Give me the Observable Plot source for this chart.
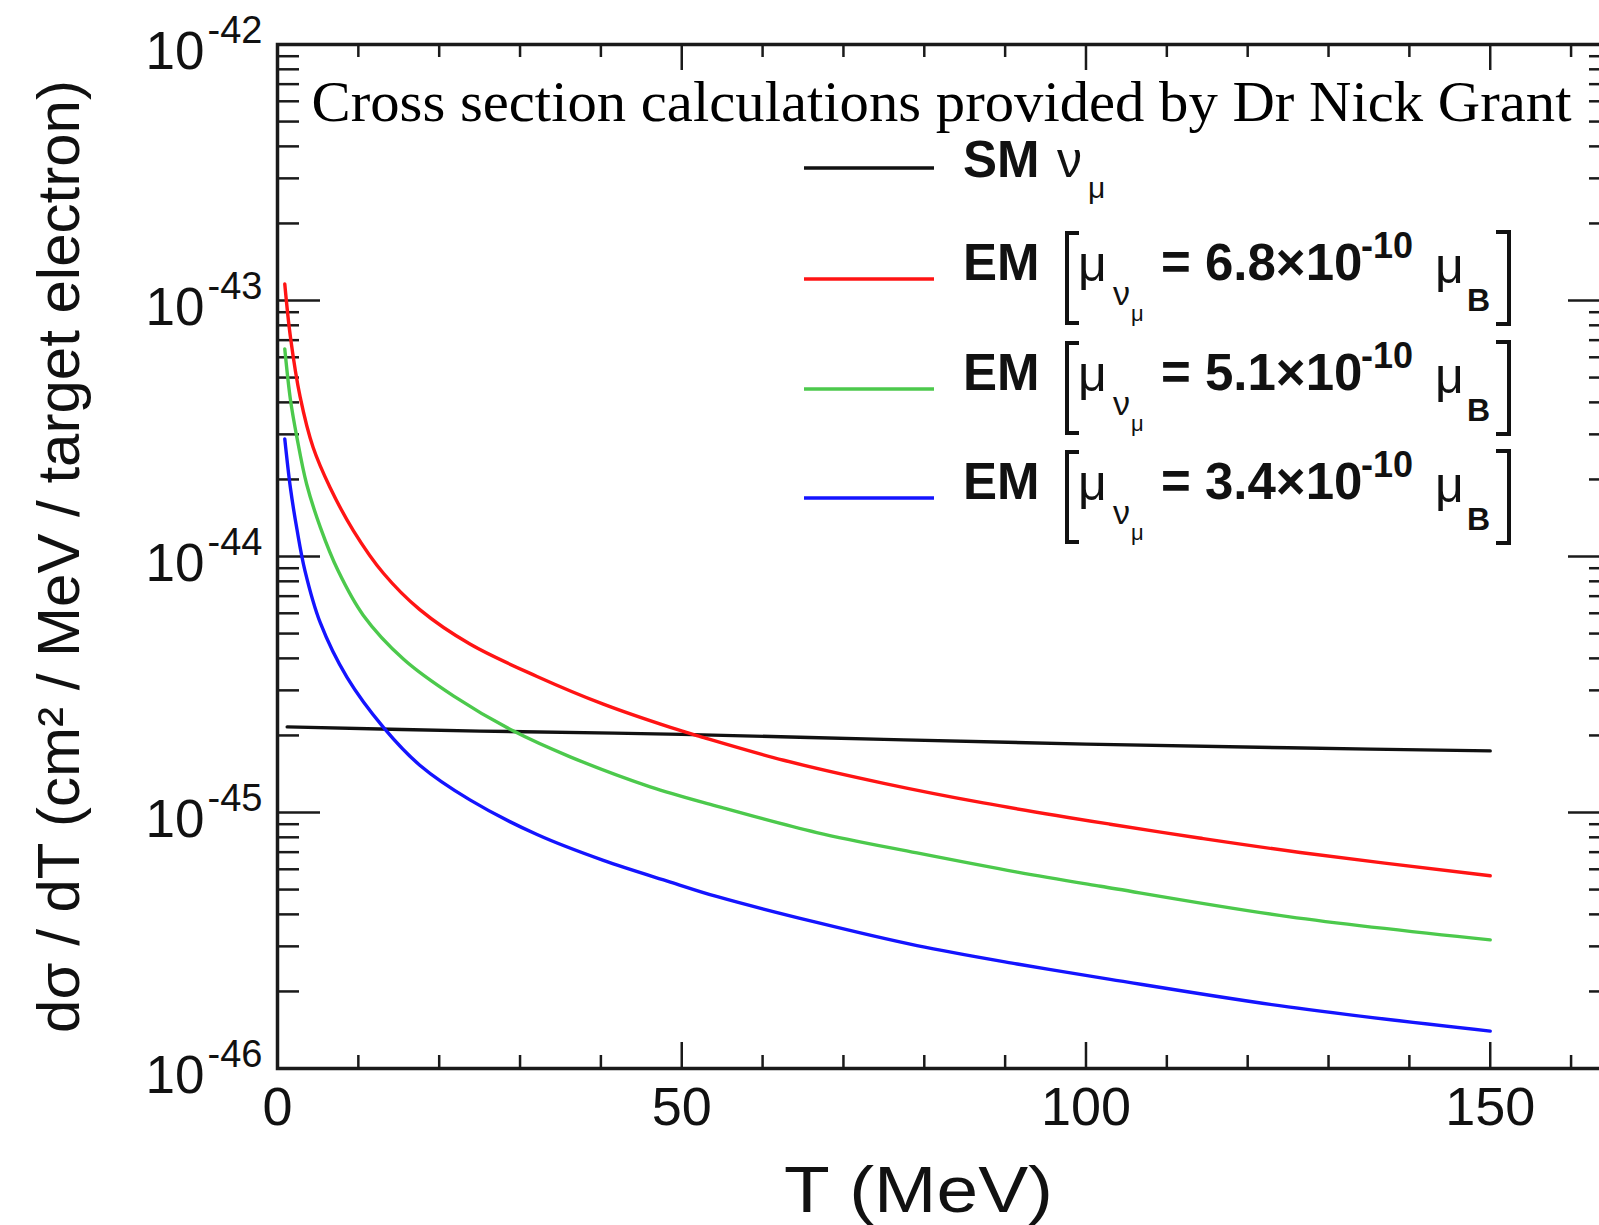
<!DOCTYPE html>
<html><head><meta charset="utf-8">
<script src="https://cdn.jsdelivr.net/npm/d3@7"></script>
<script src="https://cdn.jsdelivr.net/npm/@observablehq/plot@0.6"></script>
<style>
html,body{margin:0;padding:0;background:#fff;}
#wrap{position:relative;width:1599px;height:1225px;overflow:hidden;background:#fff;}
#wrap svg{max-width:none !important;}
</style></head><body><div id="wrap"></div>
<script>
// ---- data ----
const seriesNames = ["SM νμ", "EM 6.8", "EM 5.1", "EM 3.4"];
const seriesColors = ["#111111", "#ff1414", "#4cc94c", "#1414ff"];
const momentValues = ["6.8", "5.1", "3.4"];

const smT = [1.2, 25, 50, 75, 100, 125, 150];
const smV = [2.16e-45, 2.08e-45, 2.02e-45, 1.93e-45, 1.85e-45, 1.79e-45, 1.74e-45];

const redT = [0.9, 1.6, 2.8, 4.4, 6.5, 9.4, 13.1, 17.6, 23.8, 32.1, 40.3, 48.6, 52.3, 62.6, 75, 87.3, 103, 114, 126.5, 150];
const redV = [1.16e-43, 7.2e-44, 4.2e-44, 2.67e-44, 1.86e-44, 1.26e-44, 8.6e-45, 6.2e-45, 4.55e-45, 3.4e-45, 2.65e-45, 2.15e-45, 1.98e-45, 1.6e-45, 1.3e-45, 1.09e-45, 9.0e-46, 7.95e-46, 6.98e-46, 5.66e-46];

const greenT = [0.9, 1.6, 2.4, 3.6, 5.3, 7.5, 10.6, 15.6, 21.8, 29.2, 36.2, 46.1, 54.3, 66.7, 79.1, 91.5, 101.8, 125, 150];
const greenV = [6.47e-44, 4.1e-44, 2.92e-44, 1.92e-44, 1.30e-44, 8.79e-45, 5.9e-45, 3.97e-45, 2.85e-45, 2.08e-45, 1.65e-45, 1.26e-45, 1.06e-45, 8.35e-46, 6.95e-46, 5.85e-46, 5.15e-46, 3.92e-46, 3.18e-46];

const blueT = [0.9, 1.6, 2.4, 3.4, 5.3, 8.6, 13.1, 17.6, 23.8, 32.1, 40.3, 48.6, 54.3, 66.7, 79.1, 91.5, 103, 125, 150];
const blueV = [2.88e-44, 1.85e-44, 1.28e-44, 8.79e-45, 5.5e-45, 3.37e-45, 2.15e-45, 1.53e-45, 1.12e-45, 8.2e-46, 6.5e-46, 5.35e-46, 4.7e-46, 3.72e-46, 3.02e-46, 2.56e-46, 2.23e-46, 1.74e-46, 1.40e-46];

const xMajorTicks = [0, 50, 100, 150];
const xMinorTicks = [10, 20, 30, 40, 60, 70, 80, 90, 110, 120, 130, 140, 160];
const yMajorTicks = [1e-42, 1e-43, 1e-44, 1e-45, 1e-46];
const yMinorMultipliers = [2, 3, 4, 5, 6, 7, 8, 9];
const yDecades = [1e-46, 1e-45, 1e-44, 1e-43];

const xTitle = "T (MeV)";
const yTitle = "dσ / dT (cm² / MeV / target electron)";
const note = "Cross section calculations provided by Dr Nick Grant";

// ---- build table ----
const seriesT = [smT, redT, greenT, blueT];
const seriesV = [smV, redV, greenV, blueV];
const rows = seriesNames.flatMap((s, i) => seriesT[i].map((t, j) => ({series: s, T: t, v: seriesV[i][j]})));
const yMinorTicks = yDecades.flatMap(d => yMinorMultipliers.map(m => d * m));

// ---- layout ----
const SANS = "'Liberation Sans', Arial, Helvetica, sans-serif";
const SERIF = "'Liberation Serif', 'Times New Roman', serif";
const W = 1611, H = 1225, ML = 277, MR = 0, MT = 44, MB = 157;
const FW = W - ML - MR, FH = H - MT - MB;
const AX = "#1a1a1a";

const chart = Plot.plot({
  width: W, height: H,
  marginLeft: ML, marginRight: MR, marginTop: MT, marginBottom: MB,
  style: {fontFamily: SANS, background: "transparent", overflow: "visible", color: "#111", maxWidth: "none"},
  x: {domain: [0, 165]},
  y: {type: "log", domain: [1e-46, 1e-42], axis: null},
  color: {domain: seriesNames, range: seriesColors},
  marks: [
    Plot.tickX(xMinorTicks, {x: d => d, insetTop: FH - 13, stroke: AX, strokeWidth: 2.5}),
    Plot.tickX(xMajorTicks, {x: d => d, insetTop: FH - 26, stroke: AX, strokeWidth: 2.5}),
    Plot.tickX(xMinorTicks, {x: d => d, insetBottom: FH - 13, stroke: AX, strokeWidth: 2.5}),
    Plot.tickX(xMajorTicks, {x: d => d, insetBottom: FH - 26, stroke: AX, strokeWidth: 2.5}),
    Plot.tickY(yMinorTicks, {y: d => d, insetRight: FW - 22, stroke: AX, strokeWidth: 2.5}),
    Plot.tickY(yMajorTicks, {y: d => d, insetRight: FW - 43, stroke: AX, strokeWidth: 2.5}),
    Plot.tickY(yMinorTicks, {y: d => d, insetLeft: FW - 22, stroke: AX, strokeWidth: 2.5}),
    Plot.tickY(yMajorTicks, {y: d => d, insetLeft: FW - 43, stroke: AX, strokeWidth: 2.5}),
    Plot.line(rows, {x: "T", y: "v", z: "series", stroke: "series", strokeWidth: 3.4, curve: "catmull-rom"}),
    Plot.frame({stroke: AX, strokeWidth: 3.5}),
    Plot.axisX(xMajorTicks, {tickSize: 0, tickPadding: 18, fontSize: 54, label: null, fill: "#111"}),
    Plot.text(yMajorTicks, {y: d => d, text: () => "10", frameAnchor: "left", textAnchor: "end", lineAnchor: "bottom", dx: -73, dy: 24, fontSize: 53, fill: "#111"}),
    Plot.text(yMajorTicks, {y: d => d, text: d => String(Math.round(Math.log10(d))), frameAnchor: "left", textAnchor: "start", lineAnchor: "bottom", dx: -70, dy: -2, fontSize: 38, fill: "#111"}),
    Plot.text([xTitle], {text: d => d, frameAnchor: "bottom", textAnchor: "middle", lineAnchor: "bottom", dy: 143, dx: -26, fontSize: 64, fill: "#111", className: "xtitle"}),
    Plot.text([yTitle], {text: d => d, frameAnchor: "left", textAnchor: "middle", lineAnchor: "bottom", rotate: -90, dx: -199, fontSize: 60, fill: "#111"}),
    Plot.text([note], {text: d => d, frameAnchor: "top-left", textAnchor: "start", lineAnchor: "bottom", dx: 34, dy: 76, fontSize: 58, fontFamily: SERIF, fill: "#000", className: "note"})
  ]
});
document.getElementById("wrap").appendChild(chart);

const svg = d3.select(chart);
svg.selectAll(".xtitle text").attr("textLength", 269).attr("lengthAdjust", "spacingAndGlyphs");
svg.selectAll(".note text").attr("textLength", 1260).attr("lengthAdjust", "spacingAndGlyphs");

// ---- legend ----
const lg = svg.append("g").attr("font-family", SANS).attr("fill", "#111").attr("text-anchor", "start");
const rowY = [168, 279, 389, 498];
function txt(x, y, s, size, weight) {
  lg.append("text").attr("x", x).attr("y", y).attr("font-size", size)
    .attr("font-weight", weight || "normal").attr("xml:space", "preserve").text(s);
}
rowY.forEach((y, i) => {
  lg.append("line").attr("x1", 804).attr("x2", 934).attr("y1", y).attr("y2", y)
    .attr("stroke", seriesColors[i]).attr("stroke-width", 3.5);
});
txt(963, 177, "SM", 51, "bold");
txt(1057, 177, "ν", 50);
txt(1088, 198, "μ", 30);
momentValues.forEach((m, k) => {
  const b = rowY[k + 1] + 1;
  txt(963, b, "EM", 51, "bold");
  lg.append("path").attr("d", `M1079,${b - 47}H1067V${b + 43}H1079`).attr("fill", "none").attr("stroke", "#111").attr("stroke-width", 4);
  txt(1078, b + 1, "μ", 50);
  txt(1113, b + 25, "ν", 34);
  txt(1131, b + 41, "μ", 22);
  txt(1161, b, "= " + m + "×10", 51, "bold");
  txt(1361, b - 22, "-10", 36, "bold");
  txt(1435, b + 3, "μ", 50);
  txt(1467, b + 31, "B", 32, "bold");
  lg.append("path").attr("d", `M1496,${b - 48}H1509V${b + 44}H1496`).attr("fill", "none").attr("stroke", "#111").attr("stroke-width", 4);
});
</script>
</body></html>
